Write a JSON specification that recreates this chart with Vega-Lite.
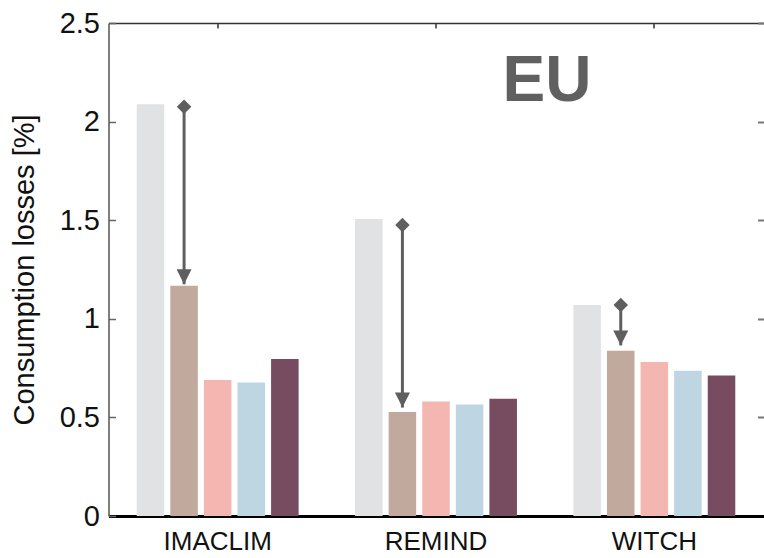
{
  "$schema": "https://vega.github.io/schema/vega-lite/v6.json",
  "width": 655,
  "height": 493,
  "autosize": {"type": "none"},
  "padding": {"left": 108.5, "top": 23, "right": 0.5, "bottom": 42},
  "background": "white",
  "config": {"view": {"stroke": null}, "font": "Liberation Sans"},
  "datasets": {
    "bars": [
      {"model": "IMACLIM", "scenario": "S1", "value": 2.088},
      {"model": "IMACLIM", "scenario": "S2", "value": 1.168},
      {"model": "IMACLIM", "scenario": "S3", "value": 0.69},
      {"model": "IMACLIM", "scenario": "S4", "value": 0.677},
      {"model": "IMACLIM", "scenario": "S5", "value": 0.796},
      {"model": "REMIND", "scenario": "S1", "value": 1.506},
      {"model": "REMIND", "scenario": "S2", "value": 0.527},
      {"model": "REMIND", "scenario": "S3", "value": 0.58},
      {"model": "REMIND", "scenario": "S4", "value": 0.565},
      {"model": "REMIND", "scenario": "S5", "value": 0.595},
      {"model": "WITCH", "scenario": "S1", "value": 1.07},
      {"model": "WITCH", "scenario": "S2", "value": 0.838},
      {"model": "WITCH", "scenario": "S3", "value": 0.781},
      {"model": "WITCH", "scenario": "S4", "value": 0.737},
      {"model": "WITCH", "scenario": "S5", "value": 0.713}
    ],
    "arrows": [
      {"model": "IMACLIM", "scenario": "S2", "start": 2.075, "end": 1.175},
      {"model": "REMIND", "scenario": "S2", "start": 1.476, "end": 0.55},
      {"model": "WITCH", "scenario": "S2", "start": 1.07, "end": 0.865}
    ],
    "labels": [
      {"label": "EU", "model": "REMIND", "value": 2.106}
    ]
  },
  "resolve": {"axis": {"x": "independent", "y": "independent"}},
  "layer": [
    {
      "data": {"name": "bars"},
      "mark": {"type": "bar"},
      "encoding": {
        "x": {"field": "model", "type": "nominal", "sort": ["IMACLIM", "REMIND", "WITCH"],
          "scale": {"paddingInner": 0, "paddingOuter": 0},
          "axis": {"orient": "bottom", "title": null, "labelAngle": 0, "labelFontSize": 26, "labelColor": "#111", "labelPadding": 12, "ticks": false, "domainColor": "#000", "domainWidth": 3}},
        "xOffset": {"field": "scenario", "type": "nominal", "sort": ["S1", "S2", "S3", "S4", "S5"],
          "scale": {"paddingInner": 0.18, "paddingOuter": 0.84}},
        "y": {"field": "value", "type": "quantitative", "scale": {"domain": [0, 2.5], "nice": false},
          "axis": {"orient": "left", "values": [0, 0.5, 1, 1.5, 2, 2.5], "format": ".1~f", "grid": false,
            "title": "Consumption losses [%]", "titleFontSize": 29, "titleFontWeight": "normal", "titleColor": "#111", "titlePadding": 20,
            "labelFontSize": 29, "labelColor": "#111", "labelPadding": 16,
            "tickSize": -7, "tickColor": "#666", "tickWidth": 1.5, "domainColor": "#555", "domainWidth": 1.5}},
        "color": {"field": "scenario", "type": "nominal",
          "scale": {"domain": ["S1", "S2", "S3", "S4", "S5"], "range": ["#e1e2e4", "#c1aa9d", "#f4b6b0", "#bed6e2", "#784c60"]},
          "legend": null}
      }
    },
    {
      "data": {"name": "arrows"},
      "mark": {"type": "rule", "color": "#5f5f5f", "strokeWidth": 3},
      "encoding": {
        "x": {"field": "model", "type": "nominal", "sort": ["IMACLIM", "REMIND", "WITCH"],
          "axis": {"orient": "top", "labels": false, "title": null, "tickSize": -5, "tickColor": "#333", "tickWidth": 1.5, "domainColor": "#333", "domainWidth": 1.5}},
        "xOffset": {"field": "scenario", "type": "nominal"},
        "y": {"field": "start", "type": "quantitative",
          "axis": {"orient": "right", "labels": false, "title": null, "domain": false, "grid": false, "values": [0.5, 1, 1.5, 2, 2.5], "tickSize": -6, "tickColor": "#777", "tickWidth": 2}},
        "y2": {"field": "end"}
      }
    },
    {
      "data": {"name": "arrows"},
      "mark": {"type": "point", "shape": "diamond", "filled": true, "color": "#5f5f5f", "opacity": 1, "size": 210},
      "encoding": {
        "x": {"field": "model", "type": "nominal", "axis": null},
        "xOffset": {"field": "scenario", "type": "nominal"},
        "y": {"field": "start", "type": "quantitative", "axis": null}
      }
    },
    {
      "data": {"name": "arrows"},
      "mark": {"type": "point", "shape": "M -1 -2 L 1 -2 L 0 0 Z", "filled": true, "color": "#5f5f5f", "opacity": 1, "size": 225},
      "encoding": {
        "x": {"field": "model", "type": "nominal", "axis": null},
        "xOffset": {"field": "scenario", "type": "nominal"},
        "y": {"field": "end", "type": "quantitative", "axis": null}
      }
    },
    {
      "data": {"name": "labels"},
      "mark": {"type": "text", "font": "Liberation Sans", "fontSize": 64, "fontWeight": "bold", "color": "#606060", "baseline": "alphabetic", "align": "center", "dx": 111},
      "encoding": {
        "x": {"field": "model", "type": "nominal", "axis": null},
        "y": {"field": "value", "type": "quantitative", "axis": null},
        "text": {"field": "label"}
      }
    }
  ]
}
